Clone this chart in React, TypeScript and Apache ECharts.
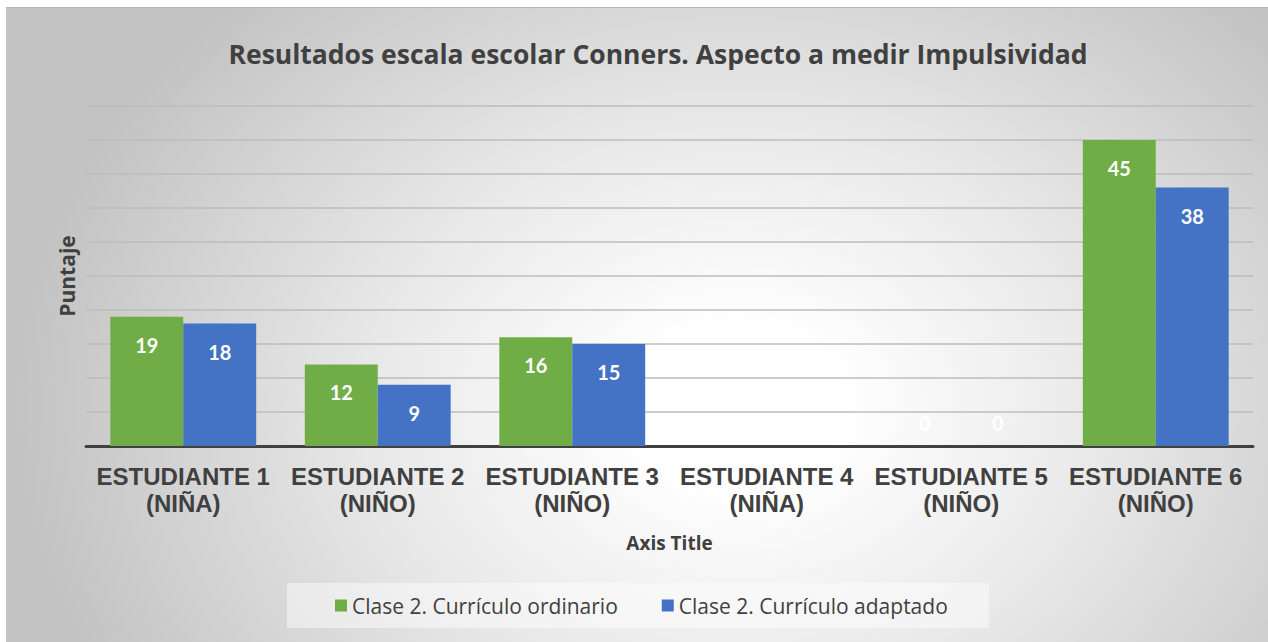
import React, { useEffect, useRef } from 'react';
import * as echarts from 'echarts';

const titleText = 'Resultados escala escolar Conners. Aspecto a medir Impulsividad';
const categories = [
  'ESTUDIANTE 1\n(NIÑA)',
  'ESTUDIANTE 2\n(NIÑO)',
  'ESTUDIANTE 3\n(NIÑO)',
  'ESTUDIANTE 4\n(NIÑA)',
  'ESTUDIANTE 5\n(NIÑO)',
  'ESTUDIANTE 6\n(NIÑO)',
];
const seriesNames = ['Clase 2. Currículo ordinario', 'Clase 2. Currículo adaptado'];
const ordinario = [19, 12, 16, 0, 0, 45];
const adaptado = [18, 9, 15, 0, 0, 38];
const yMin = 0;
const yMax = 50;
const yInterval = 5;

const GREEN = '#70ad47';
const BLUE = '#4472c4';
const TEXT = '#404040';

function toData(values: number[]) {
  return values.map((v) =>
    v === 0
      ? { value: v, label: { position: 'top', distance: 13 } }
      : { value: v }
  );
}

export default function App() {
  const ref = useRef<HTMLDivElement>(null);
  useEffect(() => {
    if (!ref.current) return;
    const chart = echarts.init(ref.current, null, { renderer: 'svg' });
    const barLabel = {
      show: true,
      position: 'insideTop',
      distance: 18,
      color: '#ffffff',
      fontFamily: 'Lato',
      fontWeight: 'bold',
      fontSize: 20,
    };
    chart.setOption({
      animation: false,
      backgroundColor: 'transparent',
      title: {
        text: titleText,
        left: 647,
        top: 28,
        textAlign: 'center',
        textStyle: {
          color: TEXT,
          fontFamily: 'Open Sans',
          fontWeight: 'bold',
          fontSize: 26.5,
        },
      },
      grid: { left: 80, right: 15, top: 99, bottom: 196, containLabel: false },
      legend: {
        left: 281,
        top: 576,
        padding: [12, 41, 12, 48],
        backgroundColor: 'rgba(255,255,255,0.45)',
        itemWidth: 12,
        itemHeight: 12,
        itemGap: 44,
        icon: 'rect',
        textStyle: { color: TEXT, fontFamily: 'Open Sans', fontSize: 21, padding: [0, 0, 0, 0] },
        data: seriesNames,
      },
      xAxis: {
        type: 'category',
        data: categories,
        name: 'Axis Title',
        nameLocation: 'middle',
        nameGap: 87,
        nameTextStyle: { color: TEXT, fontFamily: 'Open Sans', fontWeight: 'bold', fontSize: 19 },
        axisLine: { show: true, lineStyle: { color: '#404040', width: 3 } },
        axisTick: { show: false },
        axisLabel: {
          color: TEXT,
          fontFamily: 'Liberation Sans',
          fontWeight: 'bold',
          fontSize: 24,
          lineHeight: 27,
          margin: 17,
          interval: 0,
        },
      },
      yAxis: {
        type: 'value',
        min: yMin,
        max: yMax,
        interval: yInterval,
        name: 'Puntaje',
        nameLocation: 'middle',
        nameGap: 9,
        nameTextStyle: { color: TEXT, fontFamily: 'Open Sans', fontWeight: 'bold', fontSize: 21 },
        axisLine: { show: false },
        axisTick: { show: false },
        axisLabel: { show: false },
        splitLine: { show: true, lineStyle: { color: '#bcbcbc', width: 1.5 } },
      },
      series: [
        {
          name: seriesNames[0],
          type: 'bar',
          data: toData(ordinario),
          itemStyle: { color: GREEN },
          barGap: '0%',
          barCategoryGap: '25%',
          label: barLabel,
        },
        {
          name: seriesNames[1],
          type: 'bar',
          data: toData(adaptado),
          itemStyle: { color: BLUE },
          barGap: '0%',
          barCategoryGap: '25%',
          label: barLabel,
        },
      ],
    });
    return () => chart.dispose();
  }, []);
  return (
    <div style={{ position: 'fixed', left: 0, top: 0, width: 1268, height: 642, background: '#ffffff', overflow: 'hidden' }}>
      <div
        style={{
          position: 'absolute',
          left: 6,
          top: 7,
          width: 1262,
          height: 635,
          background:
            'radial-gradient(ellipse 720px 560px at 58% 63%, #ffffff 0%, #ffffff 14%, #e9e9e9 50%, #c3c3c3 100%)',
        }}
      />
      <div style={{ position: 'absolute', left: 6, top: 7, width: 1262, height: 1, background: '#b5b5b5' }} />
      <div ref={ref} style={{ position: 'absolute', left: 6, top: 7, width: 1262, height: 635 }} />
    </div>
  );
}
